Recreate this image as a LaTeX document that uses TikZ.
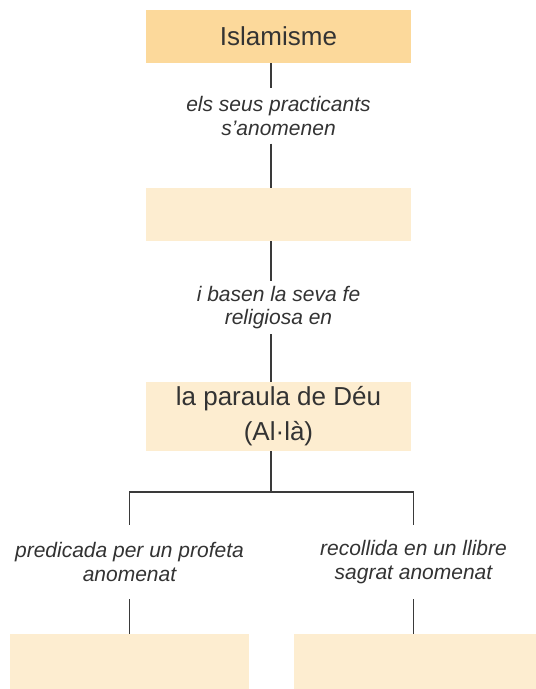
\documentclass[tikz,border=0pt]{standalone}
\usepackage{fontspec}
\setmainfont{Liberation Sans}

\definecolor{Titol}{HTML}{FCD99B}
\definecolor{Caixa}{HTML}{FDEDD0}
\definecolor{Traç}{HTML}{3A3A3A}
\definecolor{Lletra}{HTML}{333333}

\tikzset{
  caixa/.style={fill=Caixa, text=Lletra, align=center, inner sep=0pt},
  etiqueta/.style={text=Lletra, align=center, inner xsep=0pt,
    font=\fontsize{21}{23.5}\selectfont\itshape},
  link/.style={color=Traç, line width=1.1pt}
}

\begin{document}
\begin{tikzpicture}[x=1pt, y=-1pt]

\useasboundingbox (0,0) rectangle (536,689);

%%%%%%%%%% Caixes %%%%%%%%%%

 \node[caixa, fill=Titol, minimum width=265, minimum height=53,
   font=\fontsize{26}{35}\selectfont] (islam) at (278.5,36.5) {Islamisme};
 \node[caixa, minimum width=265, minimum height=53] (fidels) at (278.5,214.5) {};
 \node[caixa, minimum width=265, minimum height=69,
   font=\fontsize{26}{35}\selectfont] (deu) at (278.5,416.5) {la paraula de Déu\\(Al·là)};
 \node[caixa, minimum width=239, minimum height=55] (nomprofeta) at (129.5,661.5) {};
 \node[caixa, minimum width=242, minimum height=55] (nomllibre) at (415,661.5) {};

%%%%%%%%%% Etiquetes %%%%%%%%%%

 \node[etiqueta, inner ysep=8pt] (lblfidels) at (278.5,116) {els seus practicants\\s’anomenen};
 \node[etiqueta, inner ysep=5pt] (lblfe) at (278.5,307.5) {i basen la seva fe\\religiosa en};
 \node[etiqueta, inner ysep=17.5pt] (lblprofeta) at (129.5,562) {predicada per un profeta\\anomenat};
 \node[etiqueta, inner ysep=15.3pt] (lblllibre) at (413.5,562) {recollida en un llibre\\sagrat anomenat};

 \coordinate (fork) at (271,492) ;

%%%%%%%%%% Traços %%%%%%%%%%

 \draw[link] ([xshift=-7.5pt]islam.south) -- ([xshift=-7.5pt]lblfidels.north) ;
 \draw[link] ([xshift=-7.5pt]lblfidels.south) -- ([xshift=-7.5pt]fidels.north) ;
 \draw[link] ([xshift=-7.5pt]fidels.south) -- ([xshift=-7.5pt]lblfe.north) ;
 \draw[link] ([xshift=-7.5pt]lblfe.south) -- ([xshift=-7.5pt]deu.north) ;
 \draw[link] ([xshift=-7.5pt]deu.south) -- (fork) ;

 \draw[link] (lblprofeta.north) -- (lblprofeta.north |- fork) -- (lblllibre.north |- fork) -- (lblllibre.north) ;
 \draw[link] (lblprofeta.south) -- (lblprofeta.south |- nomprofeta.north) ;
 \draw[link] (lblllibre.south) -- (lblllibre.south |- nomllibre.north) ;

\end{tikzpicture}
\end{document}
